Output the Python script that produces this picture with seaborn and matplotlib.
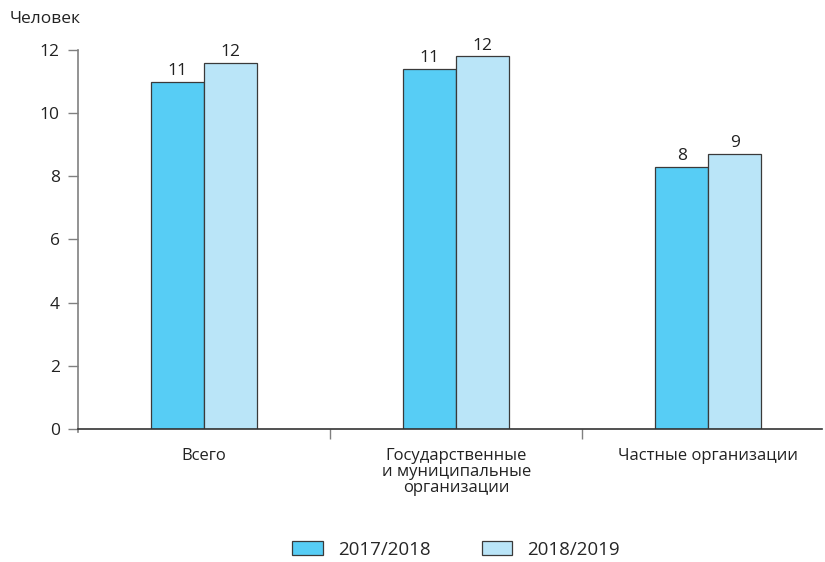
import pandas as pd
import matplotlib.pyplot as plt
import seaborn as sns
from matplotlib.patches import Patch

categories = ['Всего', 'Государственные\nи муниципальные\nорганизации', 'Частные организации']
years = ['2017/2018', '2018/2019']
values_1718 = [11.0, 11.4, 8.3]
values_1819 = [11.6, 11.8, 8.7]
colors = ['#57CDF5', '#BAE5F8']

df = pd.DataFrame({
    'cat': categories * 2,
    'year': [years[0]] * 3 + [years[1]] * 3,
    'val': values_1718 + values_1819,
})

sns.set_style('white')
plt.rcParams['font.family'] = ['Liberation Sans Narrow', 'Open Sans', 'DejaVu Sans']

fig = plt.figure(figsize=(8.25, 5.62), dpi=100)
ax = fig.add_axes([0.0945, 0.2367, 0.9015, 0.6743])

sns.barplot(data=df, x='cat', y='val', hue='year', palette=colors,
            saturation=1, width=0.42, gap=0, edgecolor='#3a3a3a',
            linewidth=0.9, legend=False, ax=ax)

# value labels (rounded)
for cont in ax.containers:
    ax.bar_label(cont, labels=[f'{v:.0f}' for v in cont.datavalues],
                 padding=2, fontsize=12.5, color='#222222')

ax.set_ylim(0, 12)
ax.set_xlim(-0.5, 2.45)
ax.set_yticks(range(0, 13, 2))
ax.set_xlabel('')
ax.set_ylabel('')

for s in ['top', 'right']:
    ax.spines[s].set_visible(False)
ax.spines['left'].set_color('#808080')
ax.spines['bottom'].set_color('#333333')
ax.spines['left'].set_linewidth(1.2)
ax.spines['bottom'].set_linewidth(1.2)
ax.spines['left'].set_bounds(-0.1, 12)

ax.tick_params(axis='y', length=7, width=1, color='#808080', labelsize=12.5,
               labelcolor='#222222', direction='out', left=True, pad=6)
ax.set_xticks([0, 1, 2])
ax.set_xticklabels(categories, fontsize=12, color='#222222', linespacing=1.0)
ax.tick_params(axis='x', length=0, pad=14)
ax.set_xticks([0.5, 1.5], minor=True)
ax.tick_params(axis='x', which='minor', length=7, width=1, color='#808080',
               direction='out', bottom=True)

fig.text(0.012, 0.967, 'Человек', fontsize=12.5, color='#222222', va='center')

handles = [Patch(facecolor=c, edgecolor='#3a3a3a', linewidth=0.9) for c in colors]
fig.legend(handles, years, loc='center', bbox_to_anchor=(0.553, 0.022),
           ncol=2, frameon=False, handlelength=1.65,
           handleheight=0.8, columnspacing=2.7, handletextpad=0.8,
           prop={'size': 13.5})

fig.savefig('out.png', dpi=100)
